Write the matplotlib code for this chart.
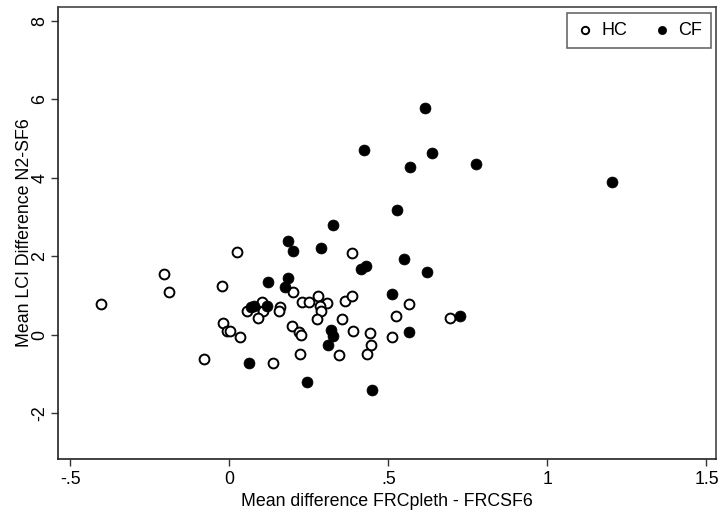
import matplotlib.pyplot as plt

plt.rcParams['font.family'] = ['Liberation Sans', 'DejaVu Sans']

# healthy controls (open circles)
hc_x = [-0.403, -0.207, -0.190, -0.080, -0.023, 0.023, -0.021, -0.009, 0.002, 0.033,
        0.136, 0.054, 0.101, 0.107, 0.089, 0.159, 0.156, 0.201, 0.227, 0.251,
        0.280, 0.306, 0.285, 0.287, 0.276, 0.364, 0.387, 0.353, 0.198, 0.220,
        0.224, 0.390, 0.442, 0.445, 0.432, 0.346, 0.222, 0.387, 0.566, 0.524,
        0.694, 0.510]
hc_y = [0.79, 1.54, 1.08, -0.62, 1.25, 2.10, 0.31, 0.11, 0.11, -0.06,
        -0.72, 0.62, 0.85, 0.61, 0.42, 0.72, 0.62, 1.09, 0.83, 0.83,
        0.99, 0.81, 0.74, 0.61, 0.40, 0.87, 0.99, 0.40, 0.23, 0.07,
        -0.01, 0.10, 0.04, -0.27, -0.48, -0.50, -0.49, 2.08, 0.79, 0.48,
        0.42, -0.06]

# cystic fibrosis (filled circles)
cf_x = [0.424, 0.327, 0.183, 0.201, 0.288, 0.615, 0.636, 0.568, 0.776, 1.202,
        0.526, 0.062, 0.243, 0.449, 0.122, 0.414, 0.429, 0.183, 0.175, 0.068,
        0.078, 0.117, 0.318, 0.327, 0.309, 0.548, 0.620, 0.510, 0.725, 0.566]
cf_y = [4.71, 2.80, 2.39, 2.13, 2.22, 5.78, 4.64, 4.27, 4.34, 3.89,
        3.18, -0.71, -1.20, -1.40, 1.34, 1.67, 1.76, 1.46, 1.21, 0.72,
        0.73, 0.74, 0.13, -0.03, -0.27, 1.92, 1.59, 1.04, 0.47, 0.07]

fig = plt.figure(figsize=(7.25, 5.17), dpi=100)
ax = fig.add_axes([0.0804, 0.1122, 0.9072, 0.8743])

ax.scatter(hc_x, hc_y, s=50, facecolors='white', edgecolors='black',
           linewidths=1.4, label='HC', zorder=3)
ax.scatter(cf_x, cf_y, s=62, facecolors='black', edgecolors='black',
           linewidths=0.5, label='CF', zorder=3)

ax.set_xlim(-0.538, 1.53)
ax.set_ylim(-3.16, 8.35)
ax.set_xticks([-0.5, 0, 0.5, 1, 1.5])
ax.set_xticklabels(['-.5', '0', '.5', '1', '1.5'])
ax.set_yticks([-2, 0, 2, 4, 6, 8])
ax.set_yticklabels(['-2', '0', '2', '4', '6', '8'], rotation=90, va='center')
ax.tick_params(labelsize=12.8, length=5, width=1, color='#333333', direction='out')
ax.tick_params(axis='y', pad=2)

for sp in ax.spines.values():
    sp.set_color('#444444')
    sp.set_linewidth(1.2)
ax.spines['left'].set_color('#222222')
ax.spines['bottom'].set_color('#222222')

ax.set_xlabel('Mean difference FRCpleth - FRCSF6', fontsize=12.8, labelpad=4)
ax.set_ylabel('Mean LCI Difference N2-SF6', fontsize=12.8, labelpad=-1)

leg = ax.legend(loc='upper right', bbox_to_anchor=(0.9924, 0.987), ncol=2,
                frameon=True, fancybox=False, fontsize=13, borderaxespad=0,
                handletextpad=0.4, columnspacing=1.4, handlelength=1.0,
                borderpad=0.5, markerscale=0.75)
leg.get_frame().set_edgecolor('#444444')
leg.get_frame().set_linewidth(1.2)

fig.savefig('out.png', dpi=100)
